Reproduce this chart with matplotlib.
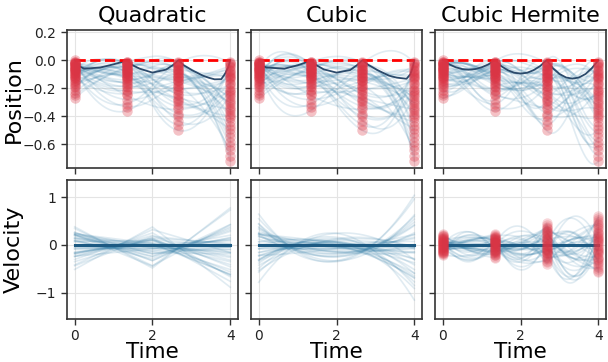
import numpy as np
import matplotlib
matplotlib.use('Agg')
import matplotlib.pyplot as plt

# knot times
knot_t = [0, 4 / 3, 8 / 3, 4]

# position values at the knots, one entry per sampled trajectory
pos_k0 = [-0.02, -0.11, -0.05, -0.19, -0.01, -0.08, -0.14, -0.03, -0.25, -0.06,
          -0.10, -0.00, -0.16, -0.04, -0.07, -0.12, -0.21, -0.02, -0.09, -0.05,
          -0.13, -0.27, -0.03, -0.07, -0.17, -0.01, -0.10, -0.06, -0.04, -0.15,
          -0.08, -0.23, -0.02, -0.11, -0.05, -0.18, -0.09, -0.03, -0.13, -0.06]
pos_k1 = [-0.09, -0.02, -0.21, -0.05, -0.14, -0.31, -0.03, -0.11, -0.07, -0.17,
          -0.01, -0.25, -0.06, -0.12, -0.36, -0.04, -0.09, -0.19, -0.02, -0.15,
          -0.08, -0.05, -0.28, -0.13, -0.03, -0.10, -0.22, -0.07, -0.16, -0.01,
          -0.11, -0.04, -0.33, -0.06, -0.18, -0.09, -0.13, -0.02, -0.24, -0.08]
pos_k2 = [-0.15, -0.31, -0.04, -0.22, -0.09, -0.02, -0.43, -0.18, -0.07, -0.27,
          -0.12, -0.35, -0.01, -0.20, -0.10, -0.05, -0.50, -0.14, -0.24, -0.08,
          -0.38, -0.03, -0.16, -0.29, -0.11, -0.06, -0.21, -0.46, -0.13, -0.02,
          -0.33, -0.09, -0.18, -0.25, -0.04, -0.12, -0.40, -0.07, -0.15, -0.28]
pos_k3 = [-0.30, -0.08, -0.52, -0.17, -0.41, -0.02, -0.25, -0.64, -0.12, -0.35,
          -0.05, -0.21, -0.47, -0.14, -0.72, -0.28, -0.03, -0.38, -0.10, -0.58,
          -0.19, -0.33, -0.07, -0.44, -0.23, -0.68, -0.13, -0.01, -0.31, -0.55,
          -0.16, -0.26, -0.09, -0.49, -0.36, -0.04, -0.22, -0.61, -0.11, -0.40]

# velocity values at the knots (Hermite only)
vel_k0 = [0.05, -0.12, 0.18, -0.03, 0.09, -0.20, 0.01, 0.14, -0.07, 0.22,
          -0.15, 0.04, -0.10, 0.11, -0.01, 0.16, -0.18, 0.07, -0.05, 0.20,
          -0.13, 0.02, 0.12, -0.08, -0.21, 0.08, -0.02, 0.15, -0.11, 0.03,
          -0.16, 0.10, -0.06, 0.19, -0.14, 0.06, -0.09, 0.13, -0.04, 0.00]
vel_k1 = [-0.10, 0.15, -0.04, 0.08, -0.22, 0.02, 0.19, -0.13, 0.05, -0.27,
          0.11, -0.06, 0.22, -0.17, 0.00, 0.09, -0.08, 0.14, -0.02, -0.19,
          0.06, -0.12, 0.17, 0.03, -0.25, 0.12, -0.05, 0.07, -0.15, 0.20,
          -0.01, 0.10, -0.09, 0.04, -0.21, 0.13, -0.03, 0.16, -0.14, 0.01]
vel_k2 = [0.21, -0.33, 0.05, -0.12, 0.38, -0.25, 0.10, -0.02, 0.29, -0.40,
          0.15, -0.08, 0.45, -0.18, 0.02, 0.25, -0.30, 0.12, -0.05, 0.33,
          -0.14, 0.07, -0.22, 0.41, -0.10, 0.18, -0.36, 0.00, 0.27, -0.16,
          0.09, -0.27, 0.35, -0.06, 0.14, -0.20, 0.23, -0.03, 0.30, -0.11]
vel_k3 = [-0.25, 0.41, -0.08, 0.18, -0.47, 0.56, 0.03, -0.32, 0.27, -0.12,
          0.60, -0.38, 0.10, -0.55, 0.35, -0.18, 0.06, -0.42, 0.22, -0.02,
          0.48, -0.28, 0.14, -0.57, 0.31, -0.06, 0.44, -0.20, 0.00, 0.52,
          -0.35, 0.16, -0.10, 0.38, -0.50, 0.08, -0.15, 0.25, -0.30, 0.12]

# dark reference curves
quad_ref_t = [0, 0.1, 0.24, 0.66, 1.0, 1.25, 4 / 3, 1.45, 1.67, 2.0, 2.35, 2.55, 8 / 3,
              2.8, 3.02, 3.3, 3.44, 3.6, 3.77, 3.87, 3.95, 4]
quad_ref_y = [0, -0.04, -0.06, -0.052, -0.029, -0.01, 0, -0.03, -0.06, -0.088, -0.067, -0.03, 0,
              -0.035, -0.071, -0.11, -0.124, -0.136, -0.135, -0.095, -0.05, 0]
cub_ref_t = [0, 0.1, 0.2, 0.66, 1.0, 1.25, 4 / 3, 1.45, 1.67, 2.0, 2.35, 2.55, 8 / 3,
             2.8, 3.05, 3.35, 3.55, 3.8, 3.9, 3.96, 4]
cub_ref_y = [0, -0.04, -0.052, -0.06, -0.036, -0.012, 0, -0.03, -0.065, -0.088, -0.07, -0.03, 0,
             -0.03, -0.07, -0.11, -0.124, -0.132, -0.1, -0.05, 0]
herm_ref_t = [0, 0.17, 0.33, 0.5, 0.66, 0.83, 1.0, 1.17, 4 / 3,
              1.5, 1.67, 1.83, 2.0, 2.17, 2.33, 2.5, 8 / 3,
              2.83, 3.0, 3.17, 3.33, 3.5, 3.67, 3.83, 4]
herm_ref_y = [0, -0.03, -0.05, -0.063, -0.067, -0.063, -0.05, -0.03, 0,
              -0.042, -0.071, -0.089, -0.095, -0.089, -0.071, -0.042, 0,
              -0.057, -0.098, -0.123, -0.131, -0.123, -0.098, -0.057, 0]
vel_ref_t = [0, 4]
vel_ref_y = [0, 0]

titles = ['Quadratic', 'Cubic', 'Cubic Hermite']

blue = '#2a78a4'
red = '#dc3545'

tk = np.array(knot_t)
tt = np.linspace(0, 4, 241)


def quad_spline(pk):
    # quadratic interpolating spline, interior knot at t=2
    def basis(t):
        t = np.asarray(t, float)
        return np.stack([np.ones_like(t), t, t ** 2, np.clip(t - 2, 0, None) ** 2], axis=-1)

    def dbasis(t):
        return np.stack([np.zeros_like(t), np.ones_like(t), 2 * t, 2 * np.clip(t - 2, 0, None)], axis=-1)

    c = np.linalg.solve(basis(tk), pk)
    return basis(tt) @ c, dbasis(tt) @ c


def cubic_poly(pk):
    c = np.polyfit(tk, pk, 3)
    return np.polyval(c, tt), np.polyval(np.polyder(c), tt)


def hermite(pk, mk):
    pos = np.zeros_like(tt)
    vel = np.zeros_like(tt)
    for i in range(3):
        h = tk[i + 1] - tk[i]
        sel = (tt >= tk[i]) & (tt <= tk[i + 1])
        s = (tt[sel] - tk[i]) / h
        h00 = 2 * s ** 3 - 3 * s ** 2 + 1
        h10 = s ** 3 - 2 * s ** 2 + s
        h01 = -2 * s ** 3 + 3 * s ** 2
        h11 = s ** 3 - s ** 2
        pos[sel] = h00 * pk[i] + h10 * h * mk[i] + h01 * pk[i + 1] + h11 * h * mk[i + 1]
        d00 = 6 * s ** 2 - 6 * s
        d10 = 3 * s ** 2 - 4 * s + 1
        d01 = -6 * s ** 2 + 6 * s
        d11 = 3 * s ** 2 - 2 * s
        vel[sel] = (d00 * pk[i] + d01 * pk[i + 1]) / h + d10 * mk[i] + d11 * mk[i + 1]
    return pos, vel


pos_knots = np.array([pos_k0, pos_k1, pos_k2, pos_k3]).T
vel_knots = np.array([vel_k0, vel_k1, vel_k2, vel_k3]).T
refs = [(quad_ref_t, quad_ref_y), (cub_ref_t, cub_ref_y), (herm_ref_t, herm_ref_y)]

fig, axes = plt.subplots(2, 3, figsize=(6.08, 3.62), dpi=100, sharex=True, sharey='row')
fig.subplots_adjust(left=0.110, right=0.997, top=0.917, bottom=0.12, wspace=0.076, hspace=0.086)

for col in range(3):
    ax_p = axes[0, col]
    ax_v = axes[1, col]
    for n in range(len(pos_knots)):
        pk = pos_knots[n]
        if col == 0:
            p, v = quad_spline(pk)
        elif col == 1:
            p, v = cubic_poly(pk)
        else:
            p, v = hermite(pk, vel_knots[n])
        ax_p.plot(tt, p, color=blue, alpha=0.14, lw=1.2, zorder=1)
        ax_v.plot(tt, v, color=blue, alpha=0.14, lw=1.2, zorder=1)

    rt, ry = refs[col]
    ax_p.plot(rt, ry, color='#2b4a6b', lw=1.3, zorder=2)
    ax_p.plot(knot_t, [0, 0, 0, 0], 'r--', lw=2, zorder=3)
    for i in range(4):
        ax_p.plot(np.full(len(pos_knots), knot_t[i]), pos_knots[:, i], 'o', color=red,
                  ms=7.5, alpha=0.3, mew=0, zorder=4)
    ax_v.plot(vel_ref_t, vel_ref_y, color='#1d5a82', lw=2.2, zorder=2)
    if col == 2:
        for i in range(4):
            ax_v.plot(np.full(len(vel_knots), knot_t[i]), vel_knots[:, i], 'o', color=red,
                      ms=7.5, alpha=0.2, mew=0, zorder=4)

    ax_p.set_title(titles[col], fontsize=16)
    ax_v.set_xlabel('Time', fontsize=15.5, labelpad=-1)

for ax in axes.flat:
    ax.set_axisbelow(True)
    ax.grid(True, color='#e4e4e4', lw=0.8)
    for sp in ax.spines.values():
        sp.set_color('#333333')
        sp.set_linewidth(1.2)
    ax.tick_params(direction='out', length=4, width=1, color='#333333', labelsize=10, labelcolor='#222222')

axes[0, 0].set_xlim(-0.2, 4.2)
axes[0, 0].set_xticks([0, 2, 4])
axes[0, 0].set_ylim(-0.77, 0.215)
axes[0, 0].set_yticks([-0.6, -0.4, -0.2, 0.0, 0.2])
axes[1, 0].set_ylim(-1.54, 1.35)
axes[1, 0].set_yticks([-1, 0, 1])
axes[0, 0].set_ylabel('Position', fontsize=16)
axes[1, 0].set_ylabel('Velocity', fontsize=16)
axes[0, 0].yaxis.set_label_coords(-0.25, 0.5)
axes[1, 0].yaxis.set_label_coords(-0.25, 0.5)

fig.savefig('out.png', dpi=100)
